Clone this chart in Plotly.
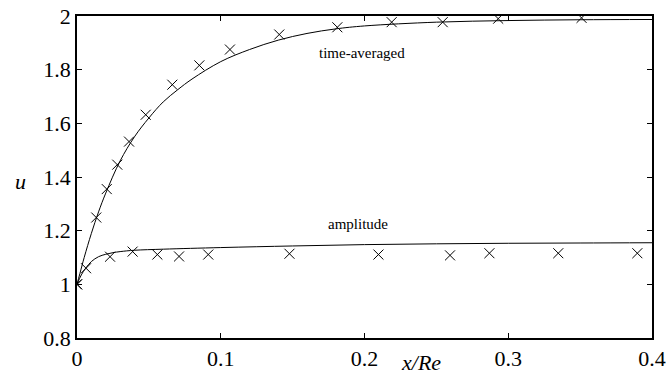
import plotly.graph_objects as go

# Measured points (crosses)
ta_x = [0.0, 0.0063, 0.0134, 0.0207, 0.028, 0.0362, 0.0478, 0.0663, 0.0851, 0.1064,
        0.1407, 0.1811, 0.2189, 0.2544, 0.293, 0.351]
ta_y = [1.0, 1.06, 1.249, 1.355, 1.446, 1.532, 1.632, 1.744, 1.816, 1.875,
        1.931, 1.958, 1.977, 1.977, 1.99, 1.993]

amp_x = [0.0, 0.023, 0.0387, 0.0559, 0.071, 0.0913, 0.1478, 0.2097, 0.2595,
         0.2869, 0.3348, 0.3898]
amp_y = [1.0, 1.103, 1.122, 1.111, 1.104, 1.111, 1.114, 1.111, 1.108,
         1.116, 1.116, 1.116]

# Computed curves (solid lines)
ta_line_x = [0.0, 0.002, 0.005, 0.01, 0.015, 0.02, 0.03, 0.04, 0.05, 0.06, 0.07, 0.08,
             0.1, 0.12, 0.14, 0.16, 0.18, 0.2, 0.25, 0.3, 0.35, 0.4]
ta_line_y = [1.0, 1.04, 1.1, 1.19, 1.27, 1.34, 1.46, 1.55, 1.62, 1.68, 1.725, 1.765,
             1.83, 1.875, 1.91, 1.935, 1.952, 1.963, 1.977, 1.983, 1.986, 1.987]

amp_line_x = [0.0, 0.003, 0.006, 0.01, 0.015, 0.02, 0.025, 0.03, 0.04, 0.06, 0.1,
              0.15, 0.2, 0.25, 0.3, 0.35, 0.4]
amp_line_y = [1.0, 1.035, 1.06, 1.085, 1.103, 1.112, 1.118, 1.122, 1.127, 1.131, 1.137,
              1.143, 1.148, 1.151, 1.153, 1.154, 1.155]

x_ticks = [0, 0.1, 0.2, 0.3, 0.4]
x_labels = ["0", "0.1", "0.2", "0.3", "0.4"]
y_ticks = [0.8, 1.0, 1.2, 1.4, 1.6, 1.8, 2.0]
y_labels = ["0.8", "1", "1.2", "1.4", "1.6", "1.8", "2"]

FONT = "Liberation Serif"

L, R, T, B = 77, 652, 16, 338
PW, PH = R - L, B - T

fig = go.Figure()
line_style = dict(color="black", width=1, shape="spline")
mk = dict(symbol="x-thin-open", size=10, color="black", line=dict(color="black", width=1))
fig.add_trace(go.Scatter(x=ta_line_x, y=ta_line_y, mode="lines", line=line_style,
                         showlegend=False, hoverinfo="skip"))
fig.add_trace(go.Scatter(x=amp_line_x, y=amp_line_y, mode="lines", line=line_style,
                         showlegend=False, hoverinfo="skip"))
fig.add_trace(go.Scatter(x=ta_x, y=ta_y, mode="markers", marker=mk, showlegend=False))
fig.add_trace(go.Scatter(x=amp_x, y=amp_y, mode="markers", marker=mk, showlegend=False))


def label(px, py, text, size):
    fig.add_annotation(x=(px - L) / PW, y=(B - py) / PH, xref="paper", yref="paper", text=text,
                       xanchor="center", yanchor="middle", showarrow=False,
                       font=dict(family=FONT, size=size, color="black"))


label(362, 53, "time-averaged", 15)
label(358, 224, "amplitude", 15)
label(20, 181, "<i>u</i>", 22)
label(421, 362, "<i>x/Re</i>", 22)

fig.update_layout(
    width=666, height=376,
    margin=dict(l=L, r=666 - R, t=T, b=376 - B, autoexpand=False),
    paper_bgcolor="white", plot_bgcolor="white",
    font=dict(family=FONT, size=22, color="black"),
)

fig.update_xaxes(range=[0, 0.4], tickvals=x_ticks, ticktext=x_labels, ticks="inside", ticklen=5,
                 showline=True, linecolor="black", linewidth=1.5, mirror="ticks", showgrid=False,
                 zeroline=False, tickcolor="black", automargin=False, ticklabelstandoff=0,
                 tickfont=dict(family=FONT, size=22, color="black"))
fig.update_yaxes(range=[0.8, 2.0], tickvals=y_ticks, ticktext=y_labels, ticks="inside", ticklen=5,
                 showline=True, linecolor="black", linewidth=1.5, mirror="ticks", showgrid=False,
                 zeroline=False, tickcolor="black", automargin=False, ticklabelstandoff=0,
                 tickfont=dict(family=FONT, size=22, color="black"))

fig.write_html("out.html", config={"displayModeBar": False},
               post_script="document.body.style.margin='0';document.body.style.overflow='hidden';")
